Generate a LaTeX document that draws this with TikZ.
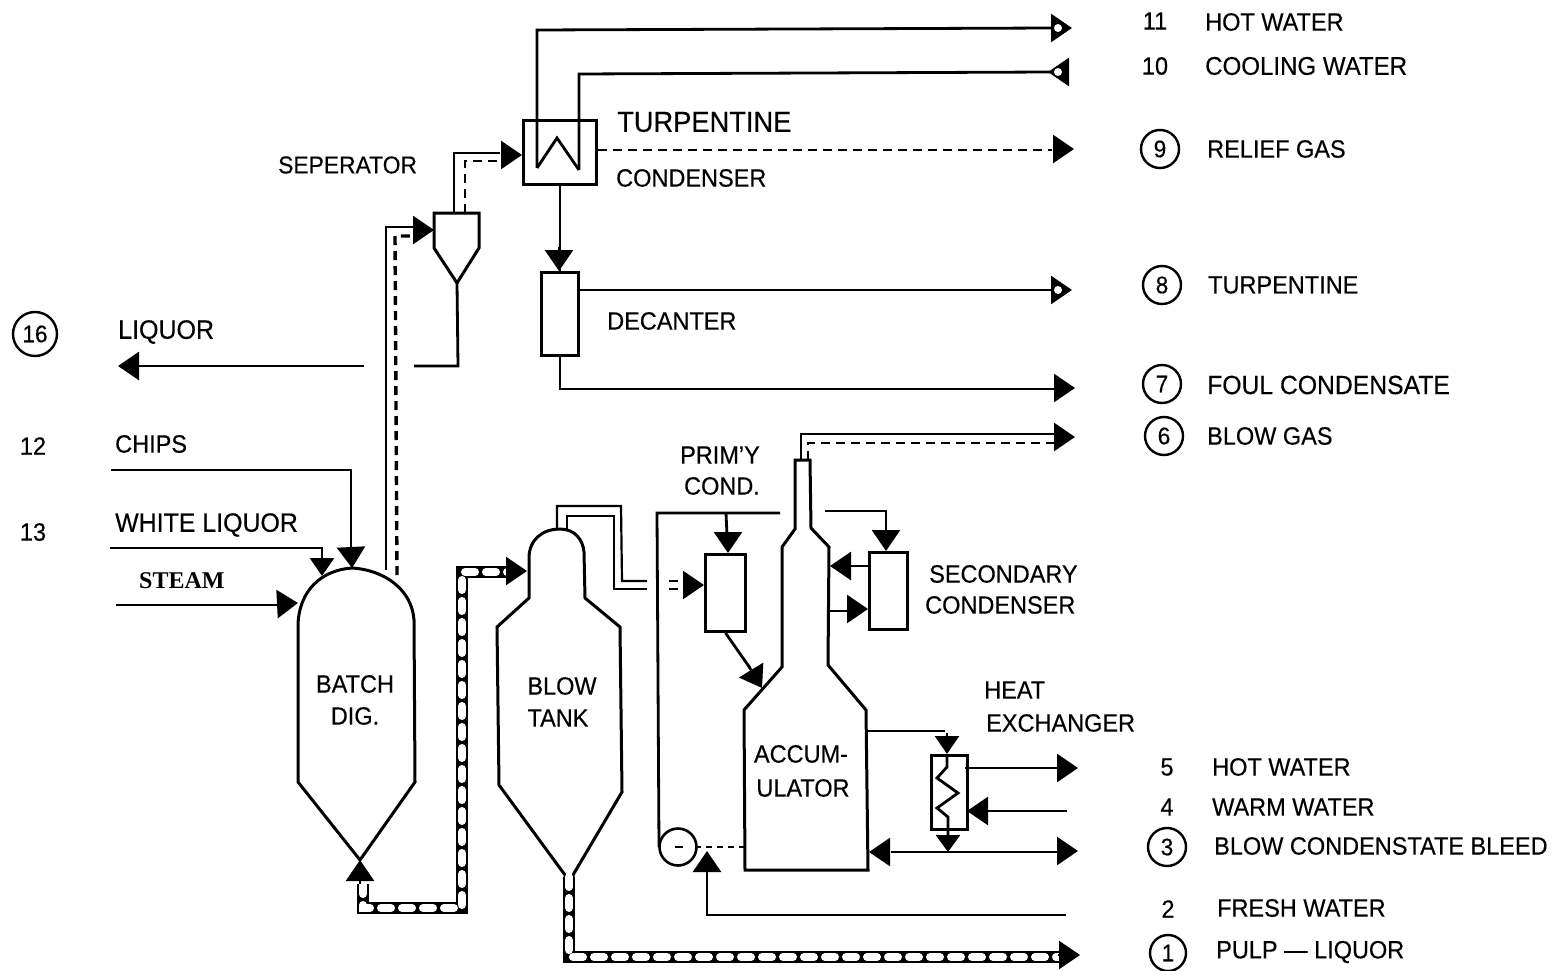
\documentclass[tikz,border=0pt]{standalone}
\usepackage{fontspec}
\setmainfont{Liberation Sans}[FakeStretch=0.94,FakeBold=0.35]
\newfontfamily\stemfont{Liberation Serif}
\usetikzlibrary{arrows.meta,calc}
\tikzset{
  x=1pt,y=-1pt,
  vessel/.style={draw=black,line width=3pt,line join=miter},
  boxv/.style={draw=black,line width=3pt,inner sep=0pt,anchor=north west},
  pipe/.style={draw=black,line width=2.8pt,line join=miter},
  thinpipe/.style={draw=black,line width=2.2pt,line join=miter},
  dashpipe/.style={draw=black,line width=2.6pt,dash pattern=on 9pt off 6pt},
  blockpipe/.style={draw=black,line width=12.5pt,line join=miter,postaction={draw=white,line width=8pt,line cap=round,dash pattern=on 10pt off 11pt}},
  head/.style={-{Triangle[length=21pt,width=28pt]},draw=black,line width=2.6pt},
  lab/.style={font=\fontsize{25}{25}\selectfont,anchor=west,inner sep=0pt},
  labw/.style={font=\fontsize{29}{29}\selectfont,anchor=west,inner sep=0pt},
  labc/.style={font=\fontsize{25}{25}\selectfont,inner sep=0pt},
  num/.style={font=\fontsize{25}{25}\selectfont,inner sep=0pt},
  numc/.style={font=\fontsize{24}{24}\selectfont,inner sep=0pt,circle,draw=black,line width=2.4pt,minimum size=38pt},
  hole/.style={circle,fill=white,inner sep=0pt,minimum width=6pt,minimum height=8pt},
}
\begin{document}
\begin{tikzpicture}
\useasboundingbox (0,0) rectangle (1561,971);
% --- vessels with named ports
\node[boxv,minimum width=73pt,minimum height=64pt] (cond) at (522,119) {};
\node[boxv,minimum width=37pt,minimum height=83pt] (decant) at (540,271) {};
\node[boxv,minimum width=40pt,minimum height=77pt] (prim) at (704,553) {};
\node[boxv,minimum width=38pt,minimum height=77pt] (sec) at (868,551) {};
\node[boxv,minimum width=36pt,minimum height=74pt] (hx) at (930,754) {};
\node[circle,draw=black,line width=2.6pt,inner sep=0pt,minimum size=37pt] (pump) at (678,847) {};
% separator
\coordinate (sepT) at (434,213);
\coordinate (sepApex) at (457,283);
\draw[vessel] (sepT) -- (479,213) -- (479,248) -- (sepApex) -- (434,248) -- cycle;
% digester
\coordinate (digTop) at (352,568);
\coordinate (digApex) at (360,860);
\draw[vessel] (digTop) .. controls (322,570) and (299,590) .. (298,625) -- (298,782) -- (digApex) -- (415,782) -- (414,620) .. controls (412,590) and (385,570) .. (digTop);
% blow tank
\coordinate (tankTop) at (560,529);
\coordinate (tankOut) at (569,877);
\draw[vessel] (tankTop) .. controls (542,529) and (529,540) .. (529,558) -- (529,598) -- (497,627) -- (499,785) -- (565,875) -- (565,880) (573,880) -- (573,875) -- (622,792) -- (620,627) -- (585,598) -- (584,552) .. controls (583,540) and (575,529) .. (tankTop);
% accumulator
\coordinate (accTopL) at (795,460);
\coordinate (accTopR) at (810,460);
\draw[vessel] (745,870) -- (744,710) -- (782,667) -- (782,547) -- (795,529) -- (accTopL) -- (accTopR) -- (811,528) -- (829,547) -- (828,665) -- (866,710) -- (868,870) -- cycle;
% condenser coil
\coordinate (hotIn) at (537,168);
\coordinate (coolIn) at (579,170);
\draw[pipe] (hotIn) -- (557,138) -- (coolIn);
% heat exchanger coil
\coordinate (hxTop) at (947,754);
\coordinate (hxBot) at (948,852);
\draw[pipe] (hxTop) -- (947,767) -- (937,778) -- (958,793) -- (937,808) -- (948,817) -- (948,835);
% --- free ends
\coordinate (o11) at (1072,28);
\coordinate (o10) at (1048,72);
\coordinate (o9) at (1074,149);
\coordinate (o8) at (1072,290);
\coordinate (o7) at (1075,388);
\coordinate (o6) at (1075,437);
\coordinate (o5) at (1078,768);
\coordinate (i4) at (1067,811);
\coordinate (o3) at (1078,851);
\coordinate (i2) at (1066,915);
\coordinate (o1) at (1080,955);
\coordinate (o16) at (118,366);
\coordinate (i12) at (111,470);
\coordinate (i13) at (110,548);
\coordinate (i14) at (116,605);
% --- connectors top
\draw[pipe] (hotIn) -- (537,30) -- (1052,28);
\draw[head] (1050,28) -- (o11);
\node[hole] (h11) at (1058,28) {};
\draw[pipe] (coolIn) -- (579,74) -- (1050,72);
\draw[-{Triangle[length=21pt,width=28pt]},line width=2.6pt] (1069,72) -- (o10);
\node[hole] (h10) at (1058,72) {};
\draw[dashpipe] (cond.east |- 0,150) -- (1052,150);
\draw[head] (1054,149) -- (o9);
\draw[pipe] (cond.south) -- (decant.north);
\draw[head] (559,247) -- (559,271);
\draw[thinpipe] (decant.east |- 0,290) -- (1052,290);
\draw[head] (1050,290) -- (o8);
\node[hole] (h8) at (1058,290) {};
\draw[pipe] (decant.south) -- (560,389) -- (1056,389);
\draw[head] (1054,388) -- (o7);
% separator connectors
\draw[thinpipe] (454,213) -- (454,153) -- (500,153);
\draw[dashpipe,line width=2.8pt] (465,213) -- (465,161) -- (500,161);
\draw[head] (501,155) -- (522,155);
\draw[pipe] (sepApex) -- (458,366) -- (414,366);
\draw[thinpipe] (364,366) -- (135,366);
\draw[head] (138,366) -- (o16);
\draw[pipe] (386,570) -- (386,227) -- (414,227);
\draw[dashpipe,line width=3.4pt] (397,575) -- (395,236) -- (414,236);
\draw[head] (413,230) -- (434,230);
% digester feeds
\draw[thinpipe] (i12) -- (351,470) -- (351,550);
\draw[head] (351,547) -- (digTop);
\draw[pipe] (i13) -- (322,548) -- (322,556);
\draw[-{Triangle[length=18pt,width=24pt]},line width=2.6pt] (322,556) -- (322,576);
\draw[pipe] (i14) -- (280,605);
\draw[head] (278,604) -- (298,603);
% block pipe digester to blow tank
\draw[blockpipe] (363,884) -- (363,908) -- (462,908) -- (462,572) -- (508,572);
\draw[head] (506,571) -- (527,571);
\draw[head] (360,884) -- (digApex);
% blow tank top outlet
\draw[thinpipe] (557,530) -- (557,506) -- (621,506) -- (622,581) -- (647,581);
\draw[thinpipe] (567,530) -- (567,516) -- (614,516) -- (614,589) -- (647,589);
% block pipe to pulp outlet
\draw[blockpipe] (tankOut) -- (569,957) -- (1060,957);
\draw[head] (1058,955) -- (o1);
% primary condenser loop
\draw[pipe] (780,513) -- (657,513) -- (659,847);
\draw[pipe] (726,513) -- (727,535);
\draw[head] (728,533) -- (728,553);
\draw[thinpipe] (669,581) -- (678,581) (669,589) -- (678,589);
\draw[head] (683,585) -- (704,585);
\draw[pipe] (prim.south) -- (750,668);
\draw[head] (748,665) -- (762,688);
% blow gas
\draw[pipe] (801,460) -- (801,434) -- (1058,434);
\draw[dashpipe] (808,460) -- (808,443) -- (1056,443);
\draw[head] (1055,437) -- (o6);
% secondary condenser
\draw[thinpipe] (825,511) -- (886,511) -- (886,533);
\draw[head] (886,531) -- (886,551);
\draw[thinpipe] (868,566) -- (848,566);
\draw[head] (850,566) -- (830,566);
\draw[thinpipe] (830,611) -- (848,611);
\draw[head] (847,609) -- (868,609);
% heat exchanger connectors
\draw[thinpipe] (866,731) -- (945,731);
\draw[-{Triangle[length=18pt,width=24pt]},line width=2.6pt] (947,733) -- (hxTop);
\draw[thinpipe] (965,768) -- (1059,768);
\draw[head] (1057,768) -- (o5);
\draw[thinpipe] (i4) -- (988,811);
\draw[head] (987,811) -- (967,811);
\draw[-{Triangle[length=17pt,width=24pt]},line width=2.6pt] (948,835) -- (hxBot);
\draw[pipe] (891,852) -- (1060,852);
\draw[head] (1058,851) -- (o3);
\draw[head] (889,852) -- (869,852);
% pump
\draw[dashpipe,dash pattern=on 6pt off 5pt] (745,847) -- (pump.east);
\draw[thinpipe] (675,847) -- (683,847);
\draw[pipe] (i2) -- (707,915) -- (707,872);
\draw[head] (707,871) -- (707,851);
% --- text
\node[num] (n11) at (1155,21) {11};
\node[lab] (t11) at (1205,22) {HOT WATER};
\node[num] (n10) at (1155,66) {10};
\node[lab,font=\fontsize{25.6}{26}\selectfont] (t10) at (1205,66) {COOLING WATER};
\node[numc] (n9) at (1160,149) {9};
\node[lab] (t9) at (1207,149) {RELIEF GAS};
\node[labw] (tturp) at (617,122) {TURPENTINE};
\node[lab] (tcond) at (616,178) {CONDENSER};
\node[lab,font=\fontsize{24.3}{25}\selectfont] (tsep) at (278,165) {SEPERATOR};
\node[lab] (tdec) at (607,321) {DECANTER};
\node[numc] (n8) at (1162,285) {8};
\node[lab] (t8) at (1208,285) {TURPENTINE};
\node[numc] (n7) at (1162,384) {7};
\node[lab,font=\fontsize{26.3}{27}\selectfont] (t7) at (1207,385) {FOUL CONDENSATE};
\node[numc] (n6) at (1164,436) {6};
\node[lab] (t6) at (1207,436) {BLOW GAS};
\node[numc,minimum size=44pt] (n16) at (35,334) {16};
\node[lab,font=\fontsize{26.6}{27}\selectfont] (t16) at (118,332) {LIQUOR};
\node[num] (n12) at (33,446) {12};
\node[lab] (t12) at (115,444) {CHIPS};
\node[num] (n13) at (33,532) {13};
\node[lab,font=\fontsize{26.5}{27}\selectfont] (t13) at (115,525) {WHITE LIQUOR};
\node[lab,font=\stemfont\bfseries\fontsize{24}{24}\selectfont] (t14) at (139,581) {STEAM};
\node[labc] (tb1) at (355,684) {BATCH};
\node[labc] (tb2) at (355,716) {DIG.};
\node[labc] (tt1) at (562,686) {BLOW};
\node[labc] (tt2) at (558,718) {TANK};
\node[labc] (tp1) at (720,455) {PRIM'Y};
\node[labc] (tp2) at (722,486) {COND.};
\node[labc] (ta1) at (801,754) {ACCUM-};
\node[labc] (ta2) at (803,788) {ULATOR};
\node[lab] (ts1) at (929,574) {SECONDARY};
\node[lab] (ts2) at (925,605) {CONDENSER};
\node[lab] (th1) at (984,690) {HEAT};
\node[lab] (th2) at (986,723) {EXCHANGER};
\node[num] (n5) at (1167,767) {5};
\node[lab] (t5) at (1212,767) {HOT WATER};
\node[num] (n4) at (1167,807) {4};
\node[lab] (t4) at (1212,807) {WARM WATER};
\node[numc] (n3) at (1167,847) {3};
\node[lab] (t3) at (1214,846) {BLOW CONDENSTATE BLEED};
\node[num] (n2) at (1168,909) {2};
\node[lab] (t2) at (1217,908) {FRESH WATER};
\node[numc,minimum size=36pt] (n1) at (1168,953) {1};
\node[lab] (t1) at (1216,952) {PULP --- LIQUOR};
\end{tikzpicture}
\end{document}
